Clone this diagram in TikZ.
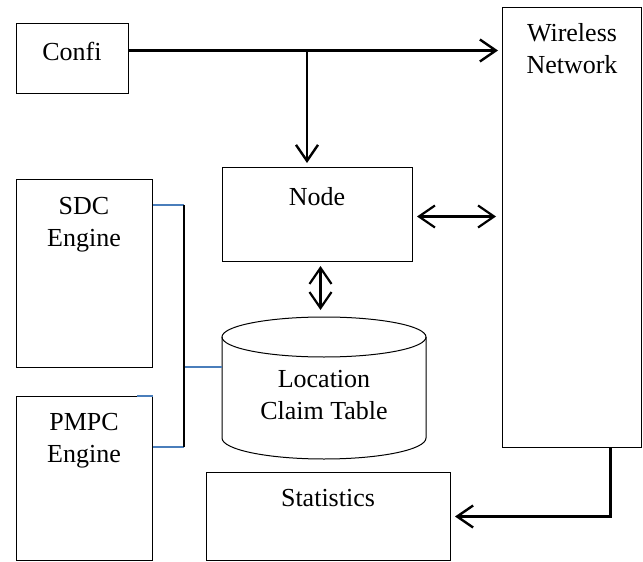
\documentclass[tikz,border=0pt]{standalone}
\usepackage{fontspec}
\setmainfont{Liberation Serif}
\usetikzlibrary{arrows.meta}
\definecolor{busblue}{HTML}{4A7EBB}
\tikzset{
  blk/.style={draw, line width=1pt, inner sep=0pt, anchor=north west},
  lbl/.style={inner sep=0pt, anchor=base, align=center,
    font=\fontsize{26}{31.5}\selectfont},
  flow/.style={line width=2.4pt, -{Straight Barb[length=16pt,width=22pt,line width=2.4pt]}},
  both/.style={line width=2.2pt, {Straight Barb[length=16pt,width=22pt,line width=2.2pt]}-{Straight Barb[length=16pt,width=22pt,line width=2.2pt]}},
  bus/.style={line width=1.4pt},
}
\begin{document}
\begin{tikzpicture}[x=1pt,y=-1pt]
\useasboundingbox (0,0) rectangle (643,562);

% boxes
\node[blk, minimum width=112pt, minimum height=70pt]  (confi)    at (16,23)  {};
\node[blk, minimum width=190pt, minimum height=94pt]  (nodebox)  at (222,167) {};
\node[blk, minimum width=139pt, minimum height=440pt] (wireless) at (502,7)  {};
\node[blk, minimum width=136pt, minimum height=188pt] (sdc)      at (16,179) {};
\node[blk, minimum width=136pt, minimum height=164pt] (pmpc)     at (16,396) {};
\node[blk, minimum width=244pt, minimum height=88pt]  (stats)    at (206,472) {};

% database cylinder
\node[inner sep=0pt, anchor=north west, minimum width=204pt, minimum height=142pt] (lct) at (222,317) {};
\draw[line width=1pt] (324,337) ellipse [x radius=102pt, y radius=20pt];
\draw[line width=1pt] (222,337) -- (222,438)
  arc[start angle=180, end angle=360, x radius=102pt, y radius=21pt] -- (426,337);

% labels (multi-line labels sit on the baseline of their last line)
\node[lbl] (confiT)    at (72,60)   {Confi};
\node[lbl] (nodeT)     at (317,205) {Node};
\node[lbl] (wirelessT) at (572,73)  {Wireless\\Network};
\node[lbl] (sdcT)      at (84,246)  {SDC\\Engine};
\node[lbl] (pmpcT)     at (84,462)  {PMPC\\Engine};
\node[lbl] (lctT)      at (324,419) {Location\\Claim Table};
\node[lbl] (statsT)    at (328,506) {Statistics};

% configuration flow
\coordinate (cfg) at ([yshift=8pt]confi.east);
\coordinate (br) at (307,50);
\draw[flow, shorten >=4pt] (cfg) -- (cfg -| wireless.west);
\draw[flow, shorten >=4pt] (br) -- (br |- nodebox.north);

% node <-> network, node <-> table
\draw[both, shorten <=4pt, shorten >=6pt] ([yshift=-2pt]nodebox.east) -- ([yshift=-2pt]nodebox.east -| wireless.west);
\draw[both, shorten <=4pt, shorten >=7pt] ([xshift=3pt]nodebox.south) -- ([xshift=3pt]nodebox.south |- lct.north);

% network -> statistics
\draw[flow, shorten >=4pt] ([xshift=38.5pt]wireless.south) |- (stats.east);

% engine bus
\coordinate (sdcOut)  at ([yshift=-26pt]sdc.north east);
\coordinate (pmpcOut) at ([yshift=-51pt]pmpc.north east);
\coordinate (busTop)  at (184,205);
\coordinate (busBot)  at (184,447);
\coordinate (busMid)  at (184,367);
\draw[bus, busblue] (sdcOut) -- (busTop);
\draw[bus, busblue] (pmpcOut) -- (busBot);
\draw[bus, busblue] (busMid) -- (busMid -| lct.west);
\draw[bus, black] (busTop) -- (busBot);
\draw[bus, busblue] ([xshift=-16pt]pmpc.north east) -- (pmpc.north east);
\end{tikzpicture}
\end{document}
